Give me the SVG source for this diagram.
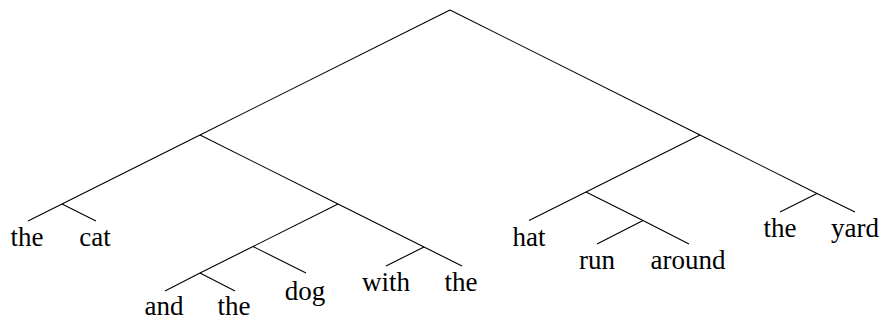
<svg xmlns="http://www.w3.org/2000/svg" width="881" height="320" viewBox="0 0 881 320">
<style>
.e{stroke:#000;stroke-width:1.1;fill:none}
text{font-family:'Liberation Serif','Times New Roman',serif;font-size:27px;fill:#000;text-anchor:middle}
</style>
<rect width="881" height="320" fill="#fff"/>
<g id="connectors">
<path class="e" d="M450,10 L200,135 M450,10 L700,135"/>
<path class="e" d="M200,135 L62,204 M200,135 L338,204"/>
<path class="e" d="M62,204 L28,221 M62,204 L96,221"/>
<path class="e" d="M338,204 L253,246.5 M338,204 L424,247"/>
<path class="e" d="M424,247 L386,266 M424,247 L462,266"/>
<path class="e" d="M253,246.5 L200,273 M253,246.5 L306,273"/>
<path class="e" d="M200,273 L165,291 M200,273 L235,291"/>
<path class="e" d="M700,135 L586,192 M700,135 L817,193.5"/>
<path class="e" d="M586,192 L529,220.5 M586,192 L643,220.5"/>
<path class="e" d="M643,220.5 L597,244 M643,220.5 L689,244"/>
<path class="e" d="M817,193.5 L780,212 M817,193.5 L855,212"/>
</g>
<g id="leaf-the1"><text x="27" y="246">the</text></g>
<g id="leaf-cat"><text x="95" y="246">cat</text></g>
<g id="leaf-and"><text x="164" y="314.5">and</text></g>
<g id="leaf-the2"><text x="234" y="314.5">the</text></g>
<g id="leaf-dog"><text x="305" y="300">dog</text></g>
<g id="leaf-with"><text x="386" y="291">with</text></g>
<g id="leaf-the3"><text x="461" y="291">the</text></g>
<g id="leaf-hat"><text x="529" y="246">hat</text></g>
<g id="leaf-run"><text x="597" y="269">run</text></g>
<g id="leaf-around"><text x="688" y="269">around</text></g>
<g id="leaf-the4"><text x="780" y="237">the</text></g>
<g id="leaf-yard"><text x="855" y="237">yard</text></g>
</svg>
